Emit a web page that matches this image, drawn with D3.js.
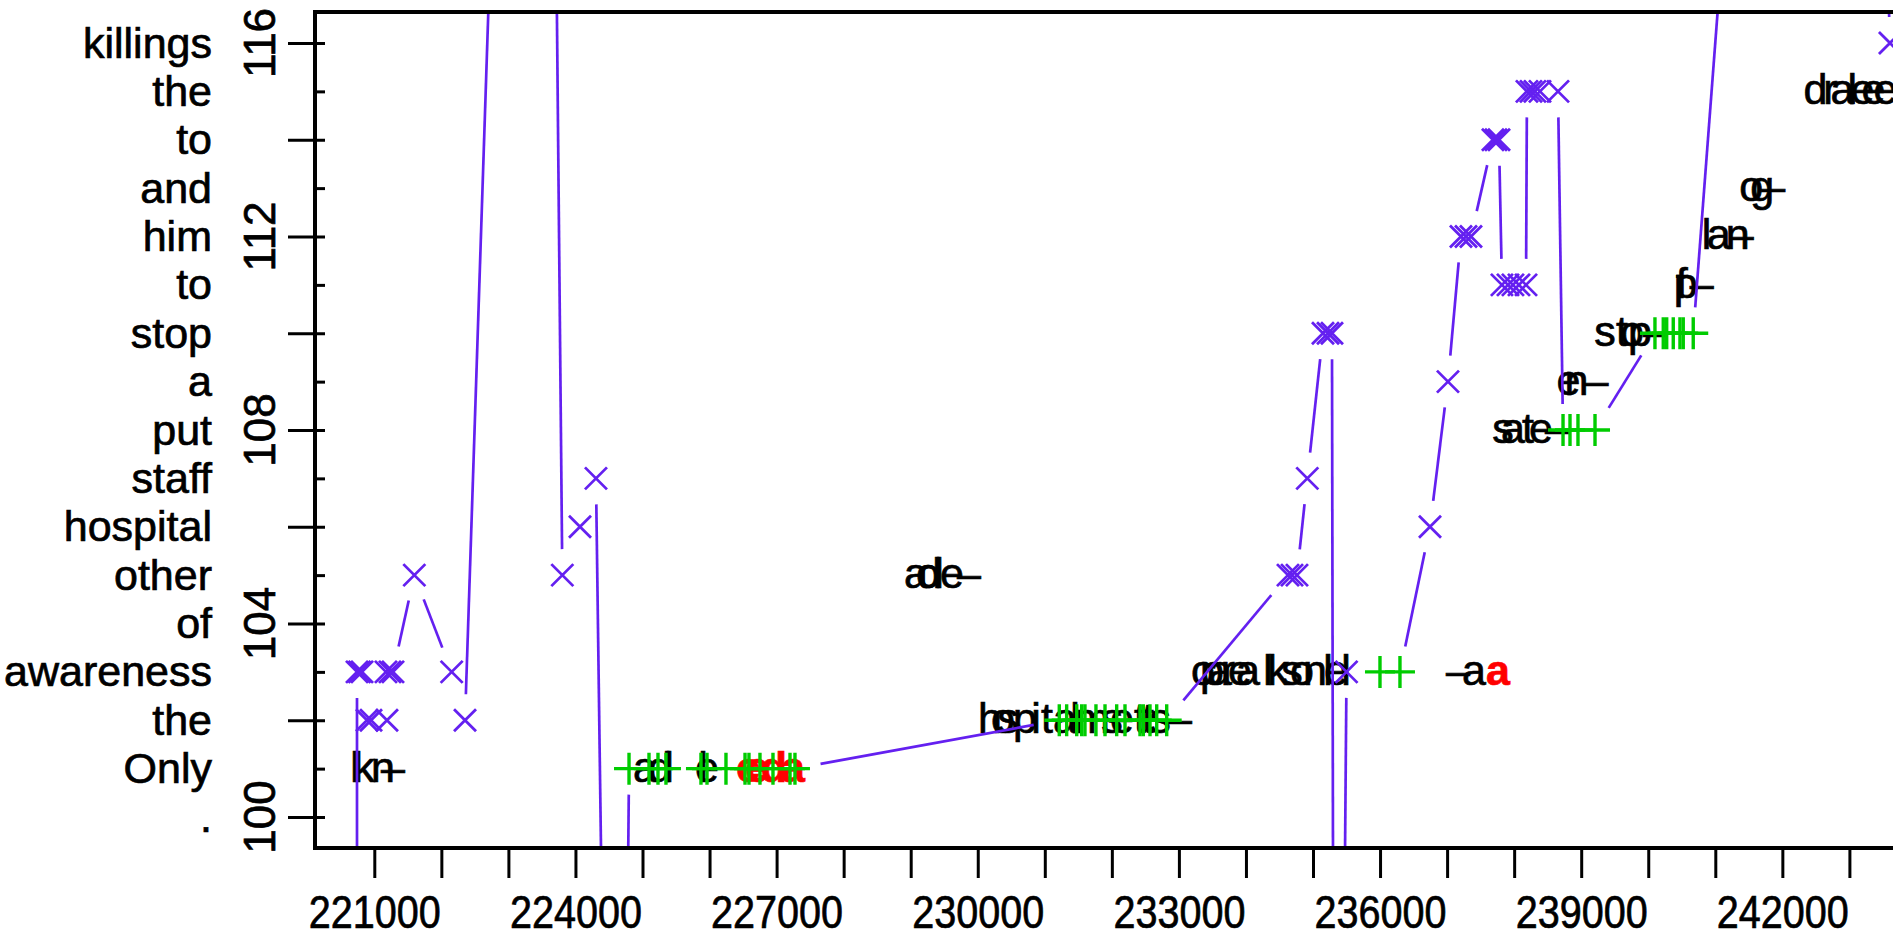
<!DOCTYPE html>
<html>
<head>
<meta charset="utf-8">
<script src="https://cdn.jsdelivr.net/npm/d3@7"></script>
<style>
  html, body { margin: 0; padding: 0; background: #fff; overflow: hidden; }
  text { font-family: "Liberation Sans", Arial, sans-serif; }
</style>
</head>
<body>
<svg id="chart" width="1893" height="930"></svg>
<script>
// ---- data -------------------------------------------------------------
// word index axis: one word per integer level
const yTickValues = [100, 101, 102, 103, 104, 105, 106, 107, 108, 109, 110, 111, 112, 113, 114, 115, 116];
const yWords = [".", "Only", "the", "awareness", "of", "other", "hospital", "staff", "put", "a",
                "stop", "to", "him", "and", "to", "the", "killings"];
const yNumberLabels = [100, 104, 108, 112, 116];

const xTickValues = [221000, 222000, 223000, 224000, 225000, 226000, 227000, 228000, 229000, 230000,
                     231000, 232000, 233000, 234000, 235000, 236000, 237000, 238000, 239000, 240000,
                     241000, 242000, 243000];
const xLabelValues = [221000, 224000, 227000, 230000, 233000, 236000, 239000, 242000];

// connected track (type "b"): position, level and marker kind
const trackX = [
  220742,
  220742, 220779, 220817,
  220891, 220951, 221189,
  221174, 221234, 221279,
  221597,
  222154,
  222353,
  223492,
  223804, 224068, 224306,
  224620,
  224799, 225097, 225231, 225350, 225872, 225962, 226245, 226529, 226588, 226752, 226946, 227200, 227274,
  231216, 231326, 231476, 231550, 231599, 231763, 231898, 232072, 232196, 232420, 232469, 232569, 232669, 232818,
  234627, 234687, 234761,
  234915,
  235149, 235224, 235283,
  235332,
  235500,
  235999, 236297,
  236745,
  237013,
  237207, 237282, 237356,
  237684, 237729, 237774,
  237818, 237908, 237982, 238072, 238177,
  238191, 238251, 238310, 238385, 238654,
  238729, 238833, 238952, 239206,
  240100, 240224, 240275, 240373, 240473, 240522, 240671,
  242860,
  243605
];
const trackY = [
  75,
  103, 103, 103,
  102, 102, 102,
  103, 103, 103,
  105,
  103,
  102,
  150,
  105, 106, 107,
  75,
  101, 101, 101, 101, 101, 101, 101, 101, 101, 101, 101, 101, 101,
  102, 102, 102, 102, 102, 102, 102, 102, 102, 102, 102, 102, 102, 102,
  105, 105, 105,
  107,
  110, 110, 110,
  75,
  103,
  103, 103,
  106,
  109,
  112, 112, 112,
  114, 114, 114,
  111, 111, 111, 111, 111,
  115, 115, 115, 115, 115,
  108, 108, 108, 108,
  110, 110, 110, 110, 110, 110, 110,
  150,
  116
];
const trackPch = [
  "cross",
  "cross", "cross", "cross",
  "cross", "cross", "cross",
  "cross", "cross", "cross",
  "cross",
  "cross",
  "cross",
  "cross",
  "cross", "cross", "cross",
  "cross",
  "plus", "plus", "plus", "plus", "plus", "plus", "plus", "plus", "plus", "plus", "plus", "plus", "plus",
  "plus", "plus", "plus", "plus", "plus", "plus", "plus", "plus", "plus", "plus", "plus", "plus", "plus", "plus",
  "cross", "cross", "cross",
  "cross",
  "cross", "cross", "cross",
  "cross",
  "cross",
  "plus", "plus",
  "cross",
  "cross",
  "cross", "cross", "cross",
  "cross", "cross", "cross",
  "cross", "cross", "cross", "cross", "cross",
  "cross", "cross", "cross", "cross", "cross",
  "plus", "plus", "plus", "plus",
  "plus", "plus", "plus", "plus", "plus", "plus", "plus",
  "cross",
  "cross"
];

// character points: position, level, character, group (0 plain, 1 highlighted)
const glyphX = [
  220712, 220846, 221130, 221279,
  225036, 225260, 225394, 225902, 225962, 226573, 226707, 226960, 227243,
  229079, 229258, 229288, 229422, 229616, 229869,
  230182, 230376, 230451, 230704, 230868, 231032, 231301, 231450, 231704, 232002, 232151, 232420, 232539, 232718, 233017,
  233360, 233494, 233613, 233732, 233911, 234031, 234329, 234478, 234687, 234836, 235030, 235224, 235343, 235492,
  237162, 237401, 237759,
  237833, 237982, 238206, 238400, 238639,
  238810, 238929, 239228,
  239355, 239609, 239758, 239878, 240100,
  240499, 240559, 240797,
  240871, 241050, 241334, 241393,
  241537, 241700, 241864,
  242492, 242716, 242895, 243044, 243193, 243357, 243536
];
const glyphY = [
  101, 101, 101, 101,
  101, 101, 101, 101, 101, 101, 101, 101, 101,
  105, 105, 105, 105, 105, 105,
  102, 102, 102, 102, 102, 102, 102, 102, 102, 102, 102, 102, 102, 102, 102,
  103, 103, 103, 103, 103, 103, 103, 103, 103, 103, 103, 103, 103, 103,
  103, 103, 103,
  108, 108, 108, 108, 108,
  109, 109, 109,
  110, 110, 110, 110, 110,
  111, 111, 111,
  112, 112, 112, 112,
  113, 113, 113,
  115, 115, 115, 115, 115, 115, 115
];
const glyphChar = [
  "l", "k", "n", "–",
  "a", "d", "l", "l", "e", "c", "e", "d", "a",
  "a", "o", "d", "l", "e", "–",
  "h", "o", "s", "p", "i", "t", "a", "l", "m", "s", "e", "t", "t", "s", "–",
  "o", "p", "a", "r", "e", "a", "l", "k", "s", "o", "n", "l", "e", "l",
  "–", "a", "a",
  "s", "a", "t", "e", "–",
  "e", "n", "–",
  "s", "t", "o", "p", "–",
  "f", "p", "–",
  "l", "a", "n", "–",
  "o", "g", "–",
  "d", "r", "a", "l", "e", "e", "e"
];
const glyphGroup = [
  0, 0, 0, 0,
  0, 0, 0, 0, 0, 1, 1, 1, 1,
  0, 0, 0, 0, 0, 0,
  0, 0, 0, 0, 0, 0, 0, 0, 0, 0, 0, 0, 0, 0, 0,
  0, 0, 0, 0, 0, 0, 0, 0, 0, 0, 0, 0, 0, 0,
  0, 0, 1,
  0, 0, 0, 0, 0,
  0, 0, 0,
  0, 0, 0, 0, 0,
  0, 0, 0,
  0, 0, 0, 0,
  0, 0, 0,
  0, 0, 0, 0, 0, 0, 0
];

// ---- layout -------------------------------------------------------------
const plotLeft = 315, plotTop = 12, plotBottom = 848, plotRight = 1960;
const FONT = 43, AXIS_FONT = 44, X_LABEL_FONT = 46;
const TEXT_WEIGHT = 0.7; // outline that thickens glyph strokes a little
const PURPLE = "#6420F0", GREEN = "#00CC00", RED = "#FF0000";
const GAP = 26; // gap left around each point on the connecting line

const svg = d3.select("#chart");
const x = d3.scaleLinear().domain([221000, 242000]).range([374.3, 1782.35]);
const y = d3.scaleLinear().domain([100, 116]).range([817, 43]);

svg.append("defs").append("clipPath").attr("id", "plotClip")
  .append("rect")
  .attr("x", plotLeft).attr("y", plotTop)
  .attr("width", plotRight - plotLeft).attr("height", plotBottom - plotTop);

const plot = svg.append("g").attr("clip-path", "url(#plotClip)");

// character points (drawn underneath the track)
plot.append("g").selectAll("text")
  .data(glyphChar.map((c, i) => ({ c, x: glyphX[i], y: glyphY[i], g: glyphGroup[i] })))
  .join("text")
  .attr("x", d => x(d.x))
  .attr("y", d => y(d.y))
  .attr("dy", "0.3em")
  .attr("text-anchor", "middle")
  .attr("font-size", FONT)
  .attr("font-weight", d => d.g ? "bold" : "normal")
  .attr("fill", d => d.g ? RED : "#000")
  .attr("stroke", d => d.g ? RED : "#000")
  .attr("stroke-width", TEXT_WEIGHT)
  .text(d => d.c);

// connecting line with gaps around the points
const pts = trackX.map((v, i) => [x(v), y(trackY[i])]);
const segs = [];
for (let i = 0; i < pts.length - 1; i++) {
  const [x0, y0] = pts[i], [x1, y1] = pts[i + 1];
  const d = Math.hypot(x1 - x0, y1 - y0);
  if (d <= 2 * GAP) continue;
  const ux = (x1 - x0) / d, uy = (y1 - y0) / d;
  segs.push([[x0 + ux * GAP, y0 + uy * GAP], [x1 - ux * GAP, y1 - uy * GAP]]);
}
plot.append("g").selectAll("path")
  .data(segs)
  .join("path")
  .attr("d", d => d3.line()(d))
  .attr("stroke", PURPLE)
  .attr("stroke-width", 2.7)
  .attr("fill", "none");

// point markers
const markerPath = {
  cross: "M-11,-11L11,11M-11,11L11,-11",
  plus: "M-15,0H15M0,-16V16"
};
plot.append("g").selectAll("path")
  .data(trackPch.map((p, i) => ({ p, x: trackX[i], y: trackY[i] })))
  .join("path")
  .attr("transform", d => `translate(${x(d.x)},${y(d.y)})`)
  .attr("d", d => markerPath[d.p])
  .attr("stroke", d => d.p === "plus" ? GREEN : PURPLE)
  .attr("stroke-width", d => d.p === "plus" ? 3.4 : 2.8)
  .attr("fill", "none");

// ---- frame ----------------------------------------------------------------
svg.append("path")
  .attr("d", `M${plotRight},${plotTop}H${plotLeft}V${plotBottom}H${plotRight}`)
  .attr("stroke", "#000").attr("stroke-width", 4).attr("fill", "none");

// ---- y axis: long ticks on even levels, short inner ticks on odd ones ---------
const yEven = yTickValues.filter(v => v % 2 === 0);
const yOdd = yTickValues.filter(v => v % 2 !== 0);
const yAxisLong = svg.append("g").attr("transform", "translate(325,0)")
  .call(d3.axisLeft(y).tickValues(yEven).tickSize(37).tickFormat(""));
const yAxisShort = svg.append("g").attr("transform", "translate(325,0)")
  .call(d3.axisLeft(y).tickValues(yOdd).tickSize(10).tickFormat(""));
[yAxisLong, yAxisShort].forEach(g => {
  g.select(".domain").remove();
  g.selectAll(".tick line").attr("stroke", "#000").attr("stroke-width", 3);
});

// rotated numeric labels
svg.append("g").selectAll("text")
  .data(yNumberLabels)
  .join("text")
  .attr("transform", d => `translate(275,${y(d)}) rotate(-90)`)
  .attr("text-anchor", "middle")
  .attr("font-size", AXIS_FONT)
  .attr("fill", "#000")
  .attr("stroke", "#000")
  .attr("stroke-width", TEXT_WEIGHT)
  .text(d => d);

// word labels, one per level
svg.append("g").selectAll("text")
  .data(yTickValues)
  .join("text")
  .attr("x", 212)
  .attr("y", d => y(d))
  .attr("dy", "0.34em")
  .attr("text-anchor", "end")
  .attr("font-size", FONT)
  .attr("fill", "#000")
  .attr("stroke", "#000")
  .attr("stroke-width", TEXT_WEIGHT)
  .text((d, i) => yWords[i]);

// ---- x axis ----------------------------------------------------------------
const xAxis = svg.append("g").attr("transform", `translate(0,${plotBottom})`)
  .call(d3.axisBottom(x).tickValues(xTickValues).tickSize(30)
    .tickFormat(d => xLabelValues.includes(d) ? String(d) : ""));
xAxis.select(".domain").remove();
xAxis.selectAll(".tick line").attr("stroke", "#000").attr("stroke-width", 3);
// labels are set in a slightly condensed face
xAxis.selectAll(".tick text")
  .attr("x", null).attr("y", null).attr("dy", null)
  .attr("transform", "translate(0,80) scale(0.86,1)")
  .attr("font-size", X_LABEL_FONT)
  .attr("font-family", "Liberation Sans, Arial, sans-serif")
  .attr("fill", "#000")
  .attr("stroke", "#000")
  .attr("stroke-width", TEXT_WEIGHT);
</script>
</body>
</html>
